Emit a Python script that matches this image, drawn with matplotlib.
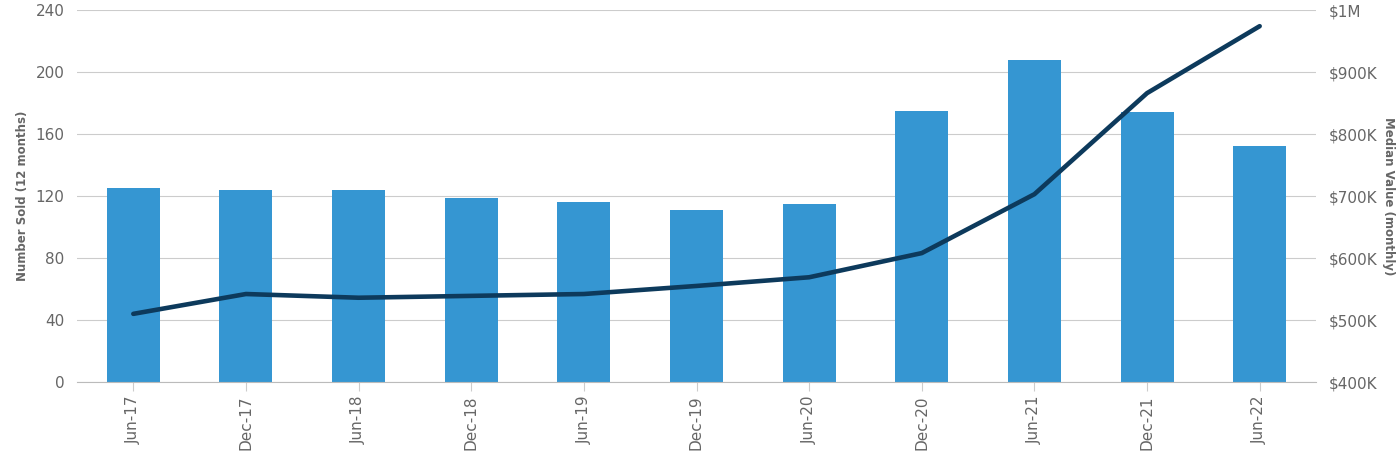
import matplotlib
matplotlib.use('Agg')
import matplotlib.pyplot as plt
from matplotlib.ticker import FuncFormatter

# data
periods = ['Jun-17', 'Dec-17', 'Jun-18', 'Dec-18', 'Jun-19', 'Dec-19',
           'Jun-20', 'Dec-20', 'Jun-21', 'Dec-21', 'Jun-22']
number_sold = [125, 124, 124, 119, 116, 111, 115, 175, 208, 174, 152]
median_value = [510000, 542000, 536000, 539000, 542000, 555000,
                569000, 608000, 703000, 866000, 974000]

left_ticks = [0, 40, 80, 120, 160, 200, 240]
right_ticks = [400000, 500000, 600000, 700000, 800000, 900000, 1000000]

GRAY = '#666666'


def money(v, pos):
    if v >= 1000000:
        return f'${v / 1000000:.0f}M'
    return f'${v / 1000:.0f}K'


def main():
    fig = plt.figure(figsize=(14, 4.57), dpi=100)
    ax1 = fig.add_axes([0.055, 0.164, 0.885, 0.814])
    x = list(range(len(periods)))

    # bars for number sold
    ax1.bar(x, number_sold, width=0.47, color='#3596d2', zorder=2)
    ax1.set_xlim(-0.5, 10.5)
    ax1.set_ylim(0, 240)
    ax1.set_yticks(left_ticks)
    ax1.set_xticks(x)
    ax1.set_xticklabels(periods, rotation=90)
    ax1.grid(axis='y', color='#cccccc', linewidth=0.8, zorder=0)
    ax1.set_axisbelow(True)
    ax1.tick_params(axis='y', length=0, pad=9, labelsize=11, labelcolor=GRAY)
    ax1.tick_params(axis='x', length=6.5, width=0.8, color='#cccccc', pad=3,
                    labelsize=11, labelcolor=GRAY)
    ax1.set_ylabel('Number Sold (12 months)', fontsize=8.5, fontweight='bold',
                   color=GRAY, labelpad=5)
    for s in ['top', 'left', 'right']:
        ax1.spines[s].set_visible(False)
    ax1.spines['bottom'].set_color('#bbbbbb')

    # line for median value on second axis
    ax2 = ax1.twinx()
    ax2.plot(x, median_value, color='#0d3a5c', linewidth=3.3,
             solid_capstyle='round', zorder=3)
    ax2.set_ylim(400000, 1000000)
    ax2.set_yticks(right_ticks)
    ax2.yaxis.set_major_formatter(FuncFormatter(money))
    ax2.tick_params(axis='y', length=0, pad=9, labelsize=11, labelcolor=GRAY)
    ax2.set_ylabel('Median Value (monthly)', fontsize=8.5, fontweight='bold',
                   color=GRAY, rotation=270, labelpad=13)
    for s in ['top', 'left', 'right', 'bottom']:
        ax2.spines[s].set_visible(False)

    fig.savefig('out.png', dpi=100)


if __name__ == '__main__':
    main()
